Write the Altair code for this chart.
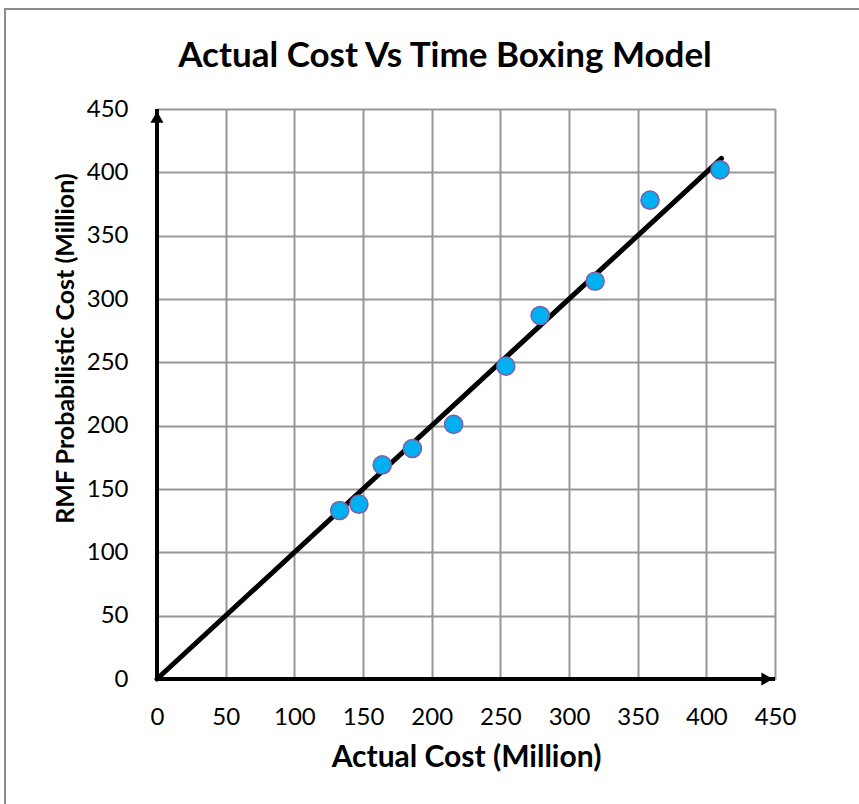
import altair as alt
import pandas as pd

# Observed project costs (million)
actual_cost = [133, 147, 164, 186, 216, 254, 279, 319, 359, 410]
rmf_cost = [133, 138, 169, 182, 201, 247, 287, 314, 378, 402]

# Reference line y = x
line_x = [0, 411]
line_y = [0, 411]

ticks = [0, 50, 100, 150, 200, 250, 300, 350, 400, 450]
axis_max = 450

chart_title = "Actual Cost Vs Time Boxing Model"
x_title = "Actual Cost (Million)"
y_title = "RMF Probabilistic Cost (Million)"

FONT = "Lato"

pts = pd.DataFrame({"actual": actual_cost, "rmf": rmf_cost})
ref = pd.DataFrame({"actual": line_x, "rmf": line_y})
axes_df = pd.DataFrame({"x0": [0, 0], "y0": [0, 0], "x1": [0, axis_max], "y1": [axis_max, 0]})
heads = pd.DataFrame({"actual": [0, axis_max], "rmf": [axis_max, 0]})
title_df = pd.DataFrame({"t": [chart_title]})

xs = alt.Scale(domain=[0, axis_max], nice=False, zero=True)
ys = alt.Scale(domain=[0, axis_max], nice=False, zero=True)

x_axis = alt.Axis(values=ticks, grid=True, gridColor="#979797", gridWidth=2,
                  domain=False, ticks=False, labelFontSize=24, labelFont=FONT,
                  labelColor="#000000", labelPadding=26, labelFlush=False,
                  title=x_title, titleFontSize=30, titleFont=FONT,
                  titleFontWeight="bold", titleColor="#000000", titlePadding=13)
y_axis = alt.Axis(values=ticks, grid=True, gridColor="#979797", gridWidth=2,
                  domain=False, ticks=False, labelFontSize=24, labelFont=FONT,
                  labelColor="#000000", labelPadding=29, labelFlush=False,
                  title=y_title, titleFontSize=25,
                  titleFont=FONT, titleFontWeight="bold", titleColor="#000000",
                  titlePadding=8, titleY=239)

base_grid = alt.Chart(pts).mark_point(opacity=0).encode(
    x=alt.X("actual:Q", scale=xs, axis=x_axis),
    y=alt.Y("rmf:Q", scale=ys, axis=y_axis),
)

axis_lines = alt.Chart(axes_df).mark_rule(color="#000000", strokeWidth=4).encode(
    x=alt.X("x0:Q", scale=xs), y=alt.Y("y0:Q", scale=ys),
    x2="x1:Q", y2="y1:Q",
)

arrow_up = alt.Chart(heads.iloc[[0]]).mark_point(
    shape="triangle-up", filled=True, color="#000000", size=170, opacity=1, yOffset=8
).encode(x=alt.X("actual:Q", scale=xs), y=alt.Y("rmf:Q", scale=ys))

arrow_right = alt.Chart(heads.iloc[[1]]).mark_point(
    shape="triangle-right", filled=True, color="#000000", size=170, opacity=1, xOffset=-8
).encode(x=alt.X("actual:Q", scale=xs), y=alt.Y("rmf:Q", scale=ys))

ref_line = alt.Chart(ref).mark_line(color="#000000", strokeWidth=5, strokeCap="round").encode(
    x=alt.X("actual:Q", scale=xs), y=alt.Y("rmf:Q", scale=ys),
)

dots = alt.Chart(pts).mark_point(
    filled=True, fill="#00B0F0", stroke="#7F5FA8", strokeWidth=1.5,
    size=330, opacity=1, shape="circle"
).encode(x=alt.X("actual:Q", scale=xs), y=alt.Y("rmf:Q", scale=ys))

# Chart heading, placed above the plot area
heading = alt.Chart(title_df).mark_text(
    font=FONT, fontSize=35, fontWeight="bold", color="#000000",
    align="center", baseline="alphabetic"
).encode(text="t:N", x=alt.value(288), y=alt.value(-42))

# Frame lines along the left and top edges of the figure
frame_left = alt.Chart(title_df).mark_rule(color="#8c8c8c", strokeWidth=2).encode(
    x=alt.value(-152), y=alt.value(-100), y2=alt.value(700))
frame_top = alt.Chart(title_df).mark_rule(color="#8c8c8c", strokeWidth=2).encode(
    x=alt.value(-153), x2=alt.value(710), y=alt.value(-100))

chart = alt.layer(
    base_grid, frame_left, frame_top, axis_lines, arrow_up, arrow_right, ref_line, dots, heading
).properties(
    width=618, height=570,
    autosize=alt.AutoSizeParams(type="none"),
    padding={"left": 157, "top": 109, "right": 84, "bottom": 125},
).configure_view(stroke=None).configure(background="#ffffff")

chart.save("out.html", embed_options={"renderer": "svg", "actions": False})
